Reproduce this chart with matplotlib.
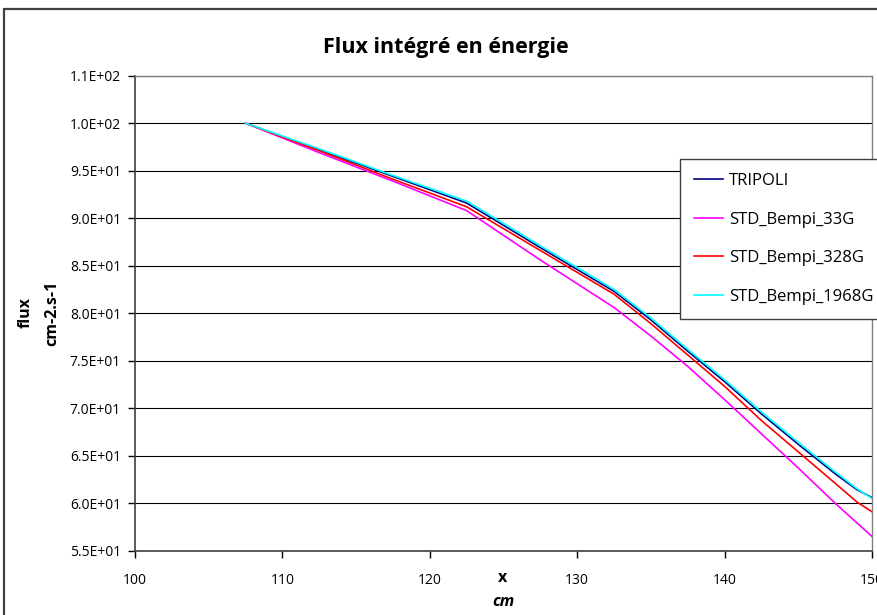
import matplotlib
matplotlib.use('Agg')
import matplotlib.pyplot as plt
from matplotlib.patches import Rectangle

plt.rcParams['font.family'] = ['Open Sans', 'DejaVu Sans']

# data --------------------------------------------------------------------
x_cm = [107.5, 112.5, 117.5, 122.5, 127.5, 132.5, 135, 137.5, 140, 142.5, 145, 147.5, 149, 150]
tripoli = [100, 97.2, 94.4, 91.6, 86.9, 82.3, 79.3, 76.0, 72.8, 69.4, 66.2, 63.1, 61.4, 60.6]
bempi_33g = [100, 96.9, 93.9, 90.8, 85.6, 80.6, 77.6, 74.4, 70.9, 67.3, 63.7, 60.0, 57.9, 56.5]
bempi_328g = [100, 97.1, 94.1, 91.2, 86.6, 82.0, 78.9, 75.6, 72.3, 68.7, 65.4, 62.1, 60.1, 59.1]
bempi_1968g = [100, 97.3, 94.5, 91.8, 87.1, 82.5, 79.5, 76.2, 73.0, 69.6, 66.4, 63.3, 61.5, 60.5]

x_ticks = [100, 110, 120, 130, 140, 150]
y_ticks = [55, 60, 65, 70, 75, 80, 85, 90, 95, 100, 105]
y_tick_labels = ['5.5E+01', '6.0E+01', '6.5E+01', '7.0E+01', '7.5E+01', '8.0E+01',
                 '8.5E+01', '9.0E+01', '9.5E+01', '1.0E+02', '1.1E+02']

W, H = 878, 615
fig = plt.figure(figsize=(W / 100, H / 100), dpi=100)

def fx(px):
    return px / W

def fy(py):
    return 1 - py / H

# outer chart frame (cut off on the right and bottom)
fig.patches.append(Rectangle((fx(4), fy(640)), 2, fy(9) - fy(640), transform=fig.transFigure,
                             fill=False, edgecolor='#404040', lw=1.6))

ax = fig.add_axes([fx(135), fy(550.7), fx(872) - fx(135), fy(75.7) - fy(550.7)])

ax.plot(x_cm, tripoli, color='#000080', lw=1.2, label='TRIPOLI')
ax.plot(x_cm, bempi_33g, color='#FF00FF', lw=1.2, label='STD_Bempi_33G')
ax.plot(x_cm, bempi_328g, color='#FF0000', lw=1.2, label='STD_Bempi_328G')
ax.plot(x_cm, bempi_1968g, color='#00FFFF', lw=1.2, label='STD_Bempi_1968G')

ax.set_xlim(100, 150)
ax.set_ylim(55, 105)
ax.set_xticks(x_ticks)
ax.set_yticks(y_ticks)
ax.set_yticklabels(y_tick_labels)
ax.tick_params(axis='x', direction='out', length=5, width=1, pad=11, labelsize=10)
ax.tick_params(axis='y', direction='out', length=5, width=1, pad=5, labelsize=10)
ax.grid(axis='y', color='black', lw=0.8)
ax.set_axisbelow(True)
for s in ['left', 'bottom']:
    ax.spines[s].set_color('#404040')
    ax.spines[s].set_linewidth(1.2)
for s in ['top', 'right']:
    ax.spines[s].set_color('#808080')
    ax.spines[s].set_linewidth(1.0)

leg = ax.legend(loc='upper left', bbox_to_anchor=(fx(680), fy(159)), bbox_transform=fig.transFigure,
                borderaxespad=0, fancybox=False, framealpha=1, edgecolor='#404040',
                fontsize=12, handlelength=1.75, handletextpad=0.35, labelspacing=1.35,
                borderpad=0.85)
leg.get_frame().set_linewidth(1.0)

fig.text(fx(446), fy(47), 'Flux intégré en énergie', ha='center', va='center',
         fontsize=15.5, fontweight='bold')
fig.text(fx(26), fy(313), 'flux', rotation=90, ha='center', va='center', fontsize=11.5, fontweight='bold')
fig.text(fx(52), fy(313), 'cm-2.s-1', rotation=90, ha='center', va='center', fontsize=11.5, fontweight='bold')
fig.text(fx(503), fy(578), 'x', ha='center', va='center', fontsize=11.5, fontweight='bold')
fig.text(fx(503), fy(602), 'cm', ha='center', va='center', fontsize=11.5, fontweight='bold', style='italic')

plt.savefig('out.png', dpi=100)
plt.close()
